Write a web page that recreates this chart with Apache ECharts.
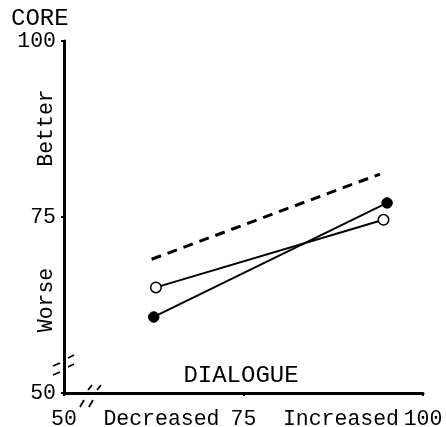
<!DOCTYPE html>
<html><head><meta charset="utf-8">
<script src="https://cdn.jsdelivr.net/npm/echarts@6/dist/echarts.min.js"></script>
<style>html,body{margin:0;padding:0;background:#fff;overflow:hidden}#c{width:446px;height:427px}</style>
</head><body><div id="c"></div>
<script>
// Data
const xTickNumbers = {50: '50', 75: '75', 100: '100'};
const xTickWords = {50: '', 75: 'Decreased', 100: 'Increased'};
const yTickLabels = {50: '50', 75: '75', 100: '100'};
const filledX = [62.5, 95.0];
const filledY = [60.8, 77.0];
const openX = [62.8, 94.5];
const openY = [65.0, 74.6];
const dashedX = [62.2, 94.0];
const dashedY = [69.0, 81.1];
const xTitle = 'DIALOGUE';
const yTitle = 'CORE';
const betterLabel = 'Better';
const worseLabel = 'Worse';

const FONT = "'Courier New', 'Liberation Mono', monospace";
const FS = 21.5;
const TFS = 24;
const pairs = (xs, ys) => xs.map((x, i) => [x, ys[i]]);

const chart = echarts.init(document.getElementById('c'), null, {renderer: 'canvas'});
const line = (x1, y1, x2, y2) => ({type: 'line', shape: {x1, y1, x2, y2}, style: {stroke: '#000', lineWidth: 1.8}, z: 10});
chart.setOption({
  animation: false,
  backgroundColor: '#fff',
  grid: {left: 64, top: 41, right: 23, bottom: 34, containLabel: false, outerBoundsMode: 'none'},
  xAxis: [{
    type: 'value', min: 50, max: 100, interval: 25,
    axisLine: {show: true, lineStyle: {color: '#000', width: 3}},
    axisTick: {show: true, length: 3, lineStyle: {color: '#000', width: 2}},
    minorTick: {show: true, splitNumber: 2, length: 2, lineStyle: {color: '#000', width: 2}},
    splitLine: {show: false},
    axisLabel: {formatter: v => xTickNumbers[v] || '', color: '#000', fontFamily: FONT, fontSize: FS, margin: 15},
  }, {
    type: 'value', min: 50, max: 100, interval: 25, position: 'bottom',
    axisLine: {show: false}, axisTick: {show: false}, splitLine: {show: false},
    axisLabel: {formatter: v => xTickWords[v] || '', color: '#000', fontFamily: FONT, fontSize: FS, margin: 15, align: 'right', padding: [0, 24, 0, 0]},
  }],
  yAxis: {
    type: 'value', min: 50, max: 100, interval: 25,
    axisLine: {show: true, lineStyle: {color: '#000', width: 3}},
    axisTick: {show: true, length: 3, lineStyle: {color: '#000', width: 2}},
    splitLine: {show: false},
    axisLabel: {formatter: v => yTickLabels[v] || '', color: '#000', fontFamily: FONT, fontSize: FS, margin: 8},
  },
  series: [
    {type: 'line', data: pairs(filledX, filledY), symbol: 'circle', symbolSize: 10.5,
     itemStyle: {color: '#000', borderColor: '#000', borderWidth: 1}, lineStyle: {color: '#000', width: 2}, z: 3},
    {type: 'line', data: pairs(openX, openY), symbol: 'circle', symbolSize: 10.5,
     itemStyle: {color: '#fff', borderColor: '#000', borderWidth: 1.5}, lineStyle: {color: '#000', width: 2}, z: 3},
    {type: 'line', data: pairs(dashedX, dashedY), symbol: 'none',
     lineStyle: {color: '#000', width: 3, type: [10, 7]}, z: 2},
  ],
  graphic: [
    {type: 'text', left: 11, top: 7, style: {text: yTitle, font: `${TFS}px ${FONT}`, fill: '#000'}},
    {type: 'text', x: 241, y: 376, style: {text: xTitle, font: `${TFS}px ${FONT}`, fill: '#000', align: 'center', verticalAlign: 'middle'}},
    {type: 'text', x: 46, y: 128, rotation: Math.PI / 2, style: {text: betterLabel, font: `${FS}px ${FONT}`, fill: '#000', align: 'center', verticalAlign: 'middle'}},
    {type: 'text', x: 46, y: 300, rotation: Math.PI / 2, style: {text: worseLabel, font: `${FS}px ${FONT}`, fill: '#000', align: 'center', verticalAlign: 'middle'}},
    line(53, 366, 60, 363), line(68, 358, 74, 355),
    line(53, 375, 60, 372), line(68, 367, 74, 364),
    line(80, 407, 84, 400), line(88, 390, 92, 385),
    line(89, 407, 93, 400), line(97, 390, 101, 385),
  ]
});
</script></body></html>
